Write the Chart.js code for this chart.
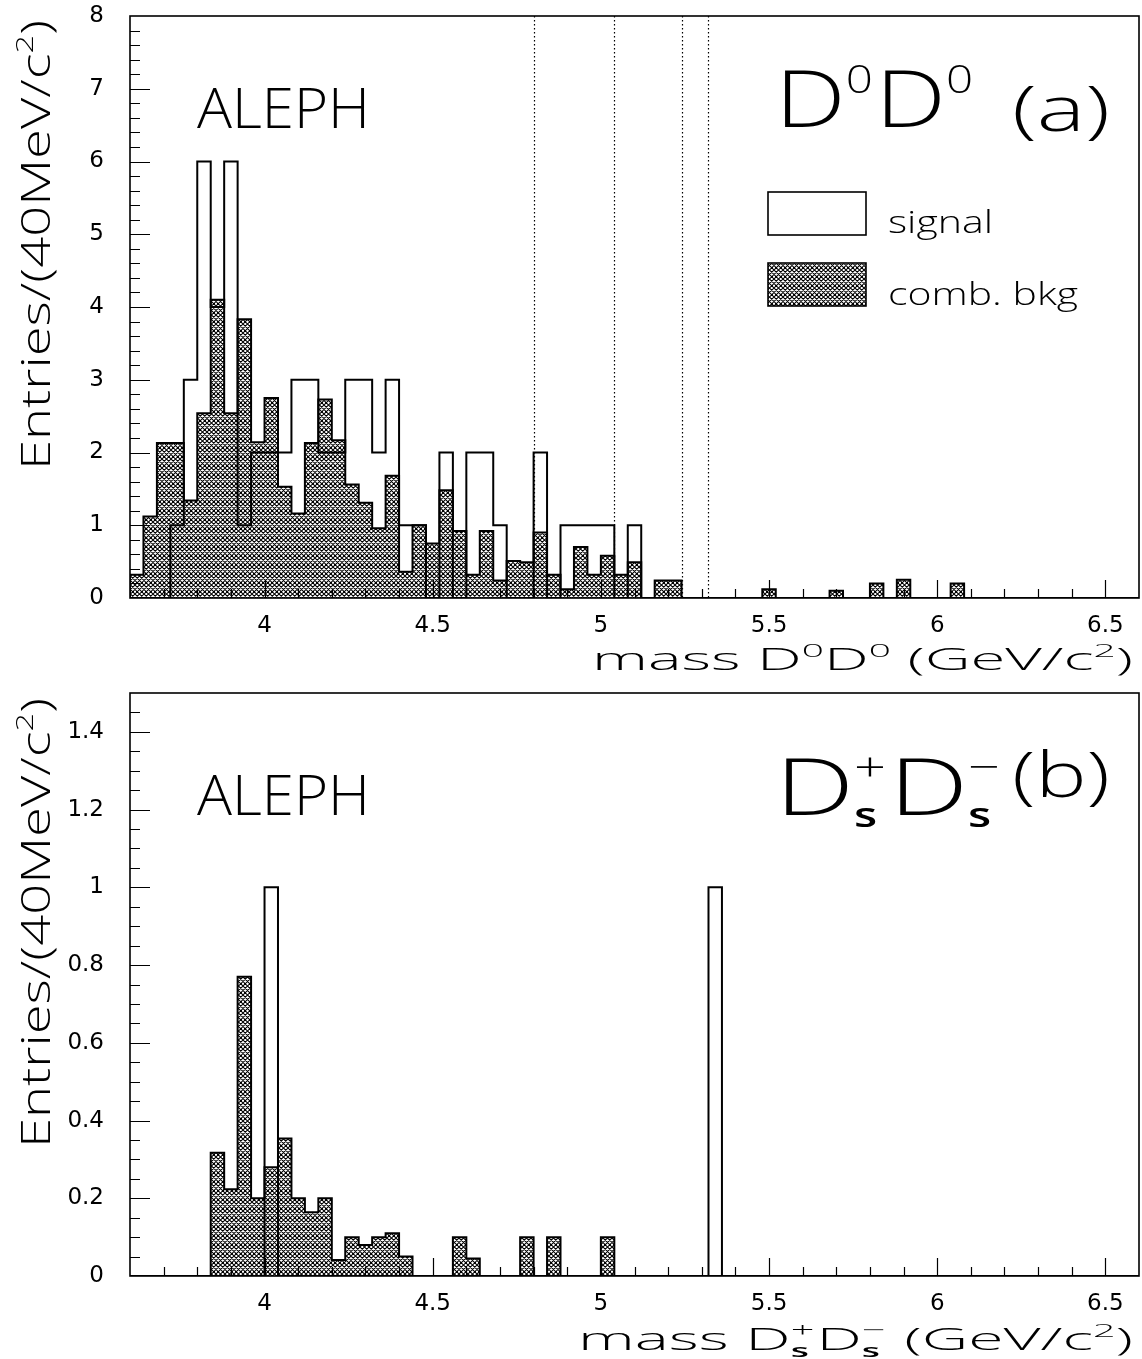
<!DOCTYPE html>
<html><head><meta charset="utf-8">
<script src="https://cdn.jsdelivr.net/npm/chart.js@4.4.0/dist/chart.umd.min.js"></script>
<style>
html,body{margin:0;padding:0;background:#fff;}
#wrap{position:relative;width:1142px;height:1359px;background:#fff;}
canvas{position:absolute;left:0;}
</style></head><body>
<div id="wrap">
<canvas id="c1" width="1142" height="680" style="top:0;width:1142px;height:680px"></canvas>
<canvas id="c2" width="1142" height="679" style="top:680px;width:1142px;height:679px"></canvas>
</div>
<script>
// ---------------- data ----------------
const EDGE_LO = 3.6;      // first bin low edge (GeV/c^2)
const BIN_W = 0.04;       // 40 MeV bins
// (a) D0 D0 : 75 bins from 3.60 to 6.60
const d0Signal = [
  0,0,0,1,3,6,4,6,1,2,
  2,2,3,3,2,2,3,3,2,3,
  1,1,0,2,0,2,2,1,0,0,
  2,0,1,1,1,1,0,1,0,0,
  0,0,0,0,0,0,0,0,0,0,
  0,0,0,0,0,0,0,0,0,0,
  0,0,0,0,0,0,0,0,0,0,
  0,0,0,0,0];
const d0Bkg = [
  0.32,1.12,2.13,2.13,1.34,2.54,4.10,2.54,3.83,2.14,
  2.75,1.53,1.16,2.13,2.73,2.17,1.56,1.31,0.96,1.68,
  0.36,1.00,0.75,1.48,0.92,0.32,0.92,0.24,0.51,0.49,
  0.90,0.32,0.12,0.70,0.32,0.58,0.32,0.49,0,0.24,
  0.24,0,0,0,0,0,0,0.12,0,0,
  0,0,0.10,0,0,0.20,0,0.25,0,0,
  0,0.20,0,0,0,0,0,0,0,0,
  0,0,0,0,0];
// (b) Ds+ Ds-
const dsSignal = [
  0,0,0,0,0,0,0,0,0,0,
  1,0,0,0,0,0,0,0,0,0,
  0,0,0,0,0,0,0,0,0,0,
  0,0,0,0,0,0,0,0,0,0,
  0,0,0,1,0,0,0,0,0,0,
  0,0,0,0,0,0,0,0,0,0,
  0,0,0,0,0,0,0,0,0,0,
  0,0,0,0,0];
const dsBkg = [
  0,0,0,0,0,0,0.317,0.223,0.77,0.20,
  0.28,0.354,0.20,0.164,0.20,0.041,0.10,0.08,0.10,0.11,
  0.05,0,0,0,0.10,0.045,0,0,0,0.10,
  0,0.10,0,0,0,0.10,0,0,0,0,
  0,0,0,0,0,0,0,0,0,0,
  0,0,0,0,0,0,0,0,0,0,
  0,0,0,0,0,0,0,0,0,0,
  0,0,0,0,0];
const d0CutLines = [4.80, 5.04, 5.24, 5.32];
const xRange = [3.6, 6.6];
const xTickValues = [4, 4.5, 5, 5.5, 6, 6.5];
const xTickLabels = ['4', '4.5', '5', '5.5', '6', '6.5'];
const yTopRange = [0, 8];
const yTopTickValues = [0, 1, 2, 3, 4, 5, 6, 7, 8];
const yTopTickLabels = ['0', '1', '2', '3', '4', '5', '6', '7', '8'];
const yBotRange = [0, 1.5];
const yBotTickValues = [0, 0.2, 0.4, 0.6, 0.8, 1, 1.2, 1.4];
const yBotTickLabels = ['0', '0.2', '0.4', '0.6', '0.8', '1', '1.2', '1.4'];
const legendLabels = ['signal', 'comb. bkg'];

// ---------------- helpers ----------------
const FAM = '"DejaVu Sans", "Liberation Sans", sans-serif';
const FAM_T = '"Open Sans", "DejaVu Sans", sans-serif';

function makeHatch() {
  const p = 4.5, T = 9;
  const c = document.createElement('canvas');
  c.width = T; c.height = T;
  const g = c.getContext('2d');
  g.strokeStyle = '#000';
  g.lineWidth = 1.05;
  g.beginPath();
  for (let k = -T; k <= 2 * T; k += p) {
    g.moveTo(k - T, -T); g.lineTo(k + T, T);
    g.moveTo(k + T, -T); g.lineTo(k - T, T);
  }
  g.stroke();
  return g.createPattern(c, 'repeat');
}
const HATCH = makeHatch();

function histPoints(vals) {
  const pts = [{x: EDGE_LO, y: 0}];
  vals.forEach((v, i) => pts.push({x: EDGE_LO + i * BIN_W, y: v}));
  pts.push({x: EDGE_LO + vals.length * BIN_W, y: 0});
  return pts;
}

function richText(ctx, parts, o) {
  ctx.save();
  const fontOf = p => `${p.b ? '600 ' : '300 '}${p.s}px ${FAM_T}`;
  const ws = parts.map(p => { ctx.font = fontOf(p); return ctx.measureText(p.t).width; });
  let total = 0;
  parts.forEach((p, i) => { total += (p.na ? 0 : ws[i]) + (p.dx || 0); });
  const sx = o.w ? o.w / total : 1;
  ctx.translate(o.x, o.y);
  if (o.rot) ctx.rotate(o.rot);
  ctx.scale(sx, 1);
  let x = o.align === 'right' ? -total : (o.align === 'center' ? -total / 2 : 0);
  ctx.fillStyle = '#000'; ctx.textBaseline = 'alphabetic'; ctx.textAlign = 'left';
  parts.forEach((p, i) => {
    ctx.font = fontOf(p);
    ctx.fillText(p.t, x, p.dy || 0);
    x += (p.na ? 0 : ws[i]) + (p.dx || 0);
  });
  ctx.restore();
}

function frameAndTicks(yMinorStep, yMajorStep, yRange) {
  return {
    id: 'frameTicks',
    beforeDatasetsDraw(chart) {
      const {ctx, chartArea: a, scales: {x, y}} = chart;
      ctx.save();
      ctx.strokeStyle = '#000'; ctx.lineWidth = 1.2;
      ctx.beginPath();
      const nx = Math.round((xRange[1] - xRange[0]) / 0.1);
      for (let i = 1; i < nx; i++) {
        const v = xRange[0] + i * 0.1;
        const major = Math.abs(v * 2 - Math.round(v * 2)) < 1e-6;
        const px = Math.round(x.getPixelForValue(v)) + 0.5;
        ctx.moveTo(px, a.bottom); ctx.lineTo(px, a.bottom - (major ? 18 : 9));
      }
      const ny = Math.round((yRange[1] - yRange[0]) / yMinorStep);
      for (let i = 1; i < ny; i++) {
        const v = yRange[0] + i * yMinorStep;
        const r = v / yMajorStep;
        const major = Math.abs(r - Math.round(r)) < 1e-6;
        const py = Math.round(y.getPixelForValue(v)) + 0.5;
        ctx.moveTo(a.left, py); ctx.lineTo(a.left + (major ? 20 : 10), py);
      }
      ctx.stroke();
      ctx.restore();
    },
    afterDatasetsDraw(chart) {
      const {ctx, chartArea: a} = chart;
      ctx.save();
      ctx.strokeStyle = '#000'; ctx.lineWidth = 1.6;
      ctx.strokeRect(a.left, a.top, a.right - a.left, a.bottom - a.top);
      ctx.restore();
    }
  };
}

function scalesFor(yRangeArr, yVals, yLabels, xHeight) {
  return {
    x: {
      type: 'linear', min: xRange[0], max: xRange[1],
      grid: {display: false, drawTicks: false, tickLength: 0},
      border: {display: false},
      ticks: {font: {family: FAM, size: 23}, color: '#000', padding: 14, maxRotation: 0,
              autoSkip: false, callback: (v, i) => xTickLabels[i]},
      afterBuildTicks: s => { s.ticks = xTickValues.map(v => ({value: v})); },
      afterFit: s => { s.height = xHeight; s.paddingLeft = 0; s.paddingRight = 0; }
    },
    y: {
      type: 'linear', min: yRangeArr[0], max: yRangeArr[1],
      grid: {display: false, drawTicks: false, tickLength: 0},
      border: {display: false},
      ticks: {font: {family: FAM, size: 23}, color: '#000', padding: 26,
              autoSkip: false, callback: (v, i) => yLabels[i]},
      afterBuildTicks: s => { s.ticks = yVals.map(v => ({value: v})); },
      afterFit: s => { s.width = 130; s.paddingTop = 0; s.paddingBottom = 0; }
    }
  };
}

function histDatasets(sig, bkg) {
  return [
    {label: 'comb. bkg', data: histPoints(bkg), stepped: 'before', fill: 'origin',
     backgroundColor: HATCH, borderColor: '#000', borderWidth: 2, pointRadius: 0,
     tension: 0, order: 2, borderJoinStyle: 'miter'},
    {label: 'signal', data: histPoints(sig), stepped: 'before', fill: false,
     borderColor: '#000', borderWidth: 2, pointRadius: 0, tension: 0, order: 1,
     borderJoinStyle: 'miter'}
  ];
}

const baseOpts = {
  responsive: false, animation: false, devicePixelRatio: 1,
  plugins: {legend: {display: false}, tooltip: {enabled: false}, title: {display: false}},
  events: []
};

// ---------------- panel (a) ----------------
const decoTop = {
  id: 'decoTop',
  afterDatasetsDraw(chart) {
    const {ctx, chartArea: a, scales: {x}} = chart;
    ctx.save();
    ctx.strokeStyle = '#000'; ctx.lineWidth = 1.2; ctx.setLineDash([1.5, 2.5]);
    ctx.beginPath();
    d0CutLines.forEach(v => {
      const px = Math.round(x.getPixelForValue(v)) + 0.5;
      ctx.moveTo(px, a.top); ctx.lineTo(px, a.bottom);
    });
    ctx.stroke();
    ctx.restore();
  },
  afterDraw(chart) {
    const ctx = chart.ctx;
    richText(ctx, [{t: 'ALEPH', s: 55}], {x: 197, y: 128, w: 173});
    richText(ctx, [{t: 'D', s: 80}, {t: '0', s: 38, dy: -34, dx: 2}, {t: 'D', s: 80}, {t: '0', s: 38, dy: -34}],
             {x: 775, y: 127, w: 198});
    richText(ctx, [{t: '(a)', s: 62}], {x: 1012, y: 131, w: 98});
    ctx.save();
    ctx.lineWidth = 1.6; ctx.strokeStyle = '#000';
    ctx.strokeRect(768, 192, 98, 43);
    ctx.fillStyle = HATCH; ctx.fillRect(768, 263, 98, 43);
    ctx.strokeRect(768, 263, 98, 43);
    ctx.restore();
    richText(ctx, [{t: legendLabels[0], s: 32}], {x: 888, y: 233, w: 105});
    richText(ctx, [{t: legendLabels[1], s: 32}], {x: 888, y: 305, w: 190});
    richText(ctx, [{t: 'mass D', s: 31}, {t: '0', s: 19, dy: -13}, {t: 'D', s: 31}, {t: '0', s: 19, dy: -13},
                   {t: ' (GeV/c', s: 31}, {t: '2', s: 19, dy: -13}, {t: ')', s: 31}],
             {x: 1133, y: 670, w: 541, align: 'right'});
    richText(ctx, [{t: 'Entries/(40MeV/c', s: 40}, {t: '2', s: 24, dy: -17}, {t: ')', s: 40}],
             {x: 50, y: 470, w: 450, rot: -Math.PI / 2});
  }
};

new Chart(document.getElementById('c1'), {
  type: 'line',
  data: {datasets: histDatasets(d0Signal, d0Bkg)},
  options: Object.assign({}, baseOpts, {
    layout: {padding: {left: 0, right: 3, top: 16, bottom: 0}},
    scales: scalesFor(yTopRange, yTopTickValues, yTopTickLabels, 82)
  }),
  plugins: [frameAndTicks(0.2, 1, yTopRange), decoTop]
});

// ---------------- panel (b) ----------------
const OFF = 680;
const decoBot = {
  id: 'decoBot',
  afterDraw(chart) {
    const ctx = chart.ctx;
    richText(ctx, [{t: 'ALEPH', s: 55}], {x: 197, y: 815 - OFF, w: 173});
    richText(ctx, [{t: 'D', s: 80}, {t: 's', s: 34, b: true, dy: 12, na: true}, {t: '+', s: 40, dy: -34, dx: 2},
                   {t: 'D', s: 80}, {t: 's', s: 34, b: true, dy: 12, na: true}, {t: '\u2212', s: 40, dy: -34}],
             {x: 775, y: 815 - OFF, w: 225});
    richText(ctx, [{t: '(b)', s: 62}], {x: 1012, y: 797 - OFF, w: 98});
    richText(ctx, [{t: 'mass D', s: 31}, {t: 's', s: 18, b: true, dy: 7, na: true}, {t: '+', s: 20, dy: -13, dx: 1},
                   {t: 'D', s: 31}, {t: 's', s: 18, b: true, dy: 7, na: true}, {t: '\u2212', s: 20, dy: -13, dx: 1},
                   {t: ' (GeV/c', s: 31}, {t: '2', s: 19, dy: -13}, {t: ')', s: 31}],
             {x: 1133, y: 1350 - OFF, w: 555, align: 'right'});
    richText(ctx, [{t: 'Entries/(40MeV/c', s: 40}, {t: '2', s: 24, dy: -17}, {t: ')', s: 40}],
             {x: 50, y: 1148 - OFF, w: 450, rot: -Math.PI / 2});
  }
};

new Chart(document.getElementById('c2'), {
  type: 'line',
  data: {datasets: histDatasets(dsSignal, dsBkg)},
  options: Object.assign({}, baseOpts, {
    layout: {padding: {left: 0, right: 3, top: 13, bottom: 0}},
    scales: scalesFor(yBotRange, yBotTickValues, yBotTickLabels, 83)
  }),
  plugins: [frameAndTicks(0.05, 0.2, yBotRange), decoBot]
});
</script>
</body></html>
